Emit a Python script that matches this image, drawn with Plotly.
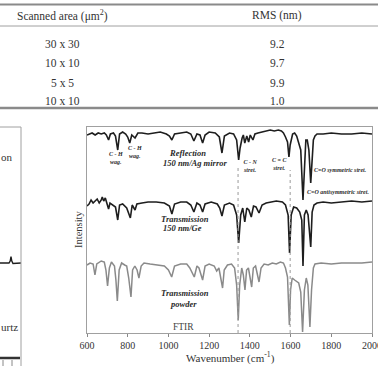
import plotly.graph_objects as go

# ---------------- table data ----------------
table_header = ["Scanned area (\u03bcm<sup>2</sup>)", "RMS (nm)"]
scanned_area = ["30 x 30", "10 x 10", "5 x 5", "10 x 10"]
rms_nm = ["9.2", "9.7", "9.9", "1.0"]

# ---------------- FTIR spectra (wavenumber cm-1, intensity a.u.) ----------------
refl_wn = [600, 610, 625, 640, 655, 670, 685, 695, 706, 715, 730, 740, 751, 760, 775, 790, 800, 810, 820, 836,
           850, 870, 900, 930, 960, 990, 1005, 1017, 1030, 1060, 1090, 1110, 1125, 1140, 1155, 1168, 1180, 1200,
           1230, 1250, 1263, 1275, 1300, 1320, 1335, 1345, 1352, 1362, 1368, 1375, 1385, 1394, 1402, 1415, 1425,
           1440, 1460, 1480, 1500, 1520, 1540, 1555, 1565, 1575, 1585, 1592, 1598, 1610, 1620, 1630, 1640, 1650,
           1661, 1668, 1675, 1682, 1690, 1699, 1706, 1712, 1720, 1730, 1760, 1800, 1850, 1900, 1950, 2000]
refl_int = [198, 199, 200, 198, 200, 199, 200, 198, 193, 199, 200, 197, 183, 199, 201, 199, 196, 190, 198, 195,
            200, 200, 199, 200, 201, 199, 197, 193, 199, 200, 201, 199, 192, 199, 198, 190, 198, 201,
            200, 196, 180, 197, 200, 199, 193, 173, 185, 195, 198, 190, 197, 191, 198, 193, 199,
            200, 201, 202, 203, 202, 203, 202, 200, 196, 191, 176, 188, 199, 200, 197, 191, 183,
            133, 173, 193, 193, 183, 150, 178, 193, 197, 199, 199, 200, 199, 199, 200, 199]

ge_wn = [600, 610, 620, 630, 640, 650, 660, 670, 675, 682, 690, 698, 706, 713, 725, 740, 751, 760, 775, 795,
         813, 822, 836, 845, 870, 900, 940, 980, 1005, 1017, 1030, 1060, 1090, 1110, 1125, 1140, 1155, 1168,
         1180, 1210, 1240, 1252, 1263, 1275, 1300, 1320, 1335, 1345, 1355, 1365, 1375, 1385, 1395, 1407, 1418,
         1430, 1445, 1460, 1480, 1500, 1530, 1560, 1575, 1588, 1595, 1603, 1615, 1630, 1645, 1655, 1661, 1668,
         1677, 1686, 1699, 1706, 1715, 1730, 1760, 1800, 1850, 1900, 1950, 2000]
ge_int = [127, 129, 133, 130, 132, 134, 130, 133, 136, 132, 135, 130, 124, 130, 128, 126, 113, 128, 129, 125,
          115, 128, 123, 129, 130, 131, 131, 130, 127, 119, 129, 131, 131, 128, 121, 130, 128, 121,
          129, 131, 129, 125, 117, 128, 130, 128, 118, 90, 118, 125, 111, 125, 123, 116, 127,
          126, 120, 128, 130, 131, 132, 131, 128, 118, 80, 118, 126, 125, 121, 113, 67, 118,
          123, 118, 86, 121, 128, 130, 131, 130, 131, 132, 131, 132]

powder_wn = [600, 615, 630, 639, 648, 670, 685, 693, 701, 710, 720, 735, 742, 749, 758, 770, 785, 795, 805, 816,
             824, 835, 846, 855, 866, 880, 910, 950, 980, 1000, 1016, 1030, 1060, 1090, 1105, 1127, 1140, 1150,
             1168, 1180, 1200, 1225, 1237, 1248, 1258, 1266, 1274, 1290, 1310, 1325, 1335, 1343, 1350, 1360,
             1368, 1376, 1384, 1393, 1409, 1417, 1428, 1445, 1455, 1470, 1490, 1510, 1530, 1550, 1565, 1575,
             1585, 1594, 1600, 1608, 1620, 1640, 1650, 1659, 1668, 1677, 1685, 1695, 1703, 1712, 1720, 1750,
             1800, 1850, 1900, 1950, 2000]
powder_int = [68, 70, 69, 58, 69, 72, 71, 63, 47, 65, 71, 67, 53, 32, 63, 70, 68, 67, 55, 36,
              63, 67, 63, 55, 67, 70, 69, 68, 67, 63, 56, 67, 69, 69, 65, 56, 67, 65,
              53, 67, 69, 67, 62, 65, 55, 45, 63, 68, 69, 65, 48, 13, 48, 65,
              58, 43, 63, 65, 46, 65, 67, 51, 65, 69, 68, 70, 69, 71, 70, 65,
              56, 8, 43, 55, 53, 50, 41, 1, 43, 55, 48, 6, 43, 65, 69, 70,
              69, 70, 70, 70, 71]

# dotted marker lines (wavenumber, top intensity)
marker_wn = [1342, 1598]
marker_top = [168, 163]

# partial neighbouring panel (left edge)
left_x = [0, 9, 10.2, 11, 11.8, 13, 21]
left_y = [97, 97, 99, 103.5, 99, 96.5, 97]
left_labels = ["on", "urtz"]

SERIF = "Liberation Serif"
W, H = 378, 370


def px(x):
    return x / W


def py(y):
    return (H - y) / H


fig = go.Figure()

fig.add_trace(go.Scatter(x=refl_wn, y=refl_int, mode="lines",
                         line=dict(color="#1e1e1e", width=1.6), hoverinfo="skip"))
fig.add_trace(go.Scatter(x=ge_wn, y=ge_int, mode="lines",
                         line=dict(color="#1e1e1e", width=1.6), hoverinfo="skip"))
fig.add_trace(go.Scatter(x=powder_wn, y=powder_int, mode="lines",
                         line=dict(color="#8a8a8a", width=1.5), hoverinfo="skip"))
fig.add_trace(go.Scatter(x=left_x, y=left_y, mode="lines", xaxis="x2", yaxis="y2",
                         line=dict(color="#1e1e1e", width=1.4), hoverinfo="skip"))

shapes = []
for wn, top in zip(marker_wn, marker_top):
    shapes.append(dict(type="line", xref="x", yref="y", x0=wn, x1=wn, y0=0, y1=top,
                       line=dict(color="#9a9a9a", width=1, dash="dot")))


def pline(x0, y0, x1, y1, color, width):
    shapes.append(dict(type="line", xref="paper", yref="paper", x0=px(x0), x1=px(x1),
                       y0=py(y0), y1=py(y1), line=dict(color=color, width=width)))


# table rules
pline(0, 4.5, W, 4.5, "#8a8a8a", 2)
pline(0, 26, W, 26, "#a0a0a0", 1)
pline(0, 108, W, 108, "#8a8a8a", 2.5)
# left panel frame (only its right and top edges are in view)
pline(0, 127, 21, 127, "#a0a0a0", 1)
pline(21, 127, 21, 366, "#a0a0a0", 1)
pline(0, 358, 20, 358, "#333333", 2.5)
pline(3, 360, 3, 366, "#888888", 1)
pline(12, 360, 12, 366, "#888888", 1)

annotations = []


def ptext(text, x, y, size=11.5, color="#333", xanchor="center", angle=0):
    annotations.append(dict(text=text, x=px(x), y=py(y), xref="paper", yref="paper",
                            showarrow=False, xanchor=xanchor, yanchor="middle", textangle=angle,
                            font=dict(family=SERIF, size=size, color=color)))


# table text
col_x = [62, 277]
ptext(table_header[0], col_x[0], 15)
ptext(table_header[1], col_x[1], 15)
row_y = [43.5, 63, 82.5, 101.5]
for a, r, yy in zip(scanned_area, rms_nm, row_y):
    ptext(a, col_x[0], yy)
    ptext(r, col_x[1], yy)


def lab(text, x, y, size=8.5):
    annotations.append(dict(text="<b><i>" + text + "</i></b>", x=x, y=y, xref="x", yref="y",
                            showarrow=False, xanchor="center", yanchor="middle",
                            font=dict(family=SERIF, size=size, color="#2a2a2a")))


lab("C - H<br>wag.", 742, 175, size=6)
lab("C - H<br>wag.", 838, 181.5, size=6)
lab("Reflection", 1096, 180)
lab("150 nm/Ag mirror", 1130, 170)
lab("C - N<br>stret.", 1400, 167, size=6)
lab("C = C<br>stret.", 1545, 169.5, size=6)
lab("C=O symmetric stret.", 1845, 163, size=6)
lab("C=O antisymmetric stret.", 1835, 141.5, size=6)
lab("Transmission", 1081, 114)
lab("150 nm/Ge", 1071, 105)
lab("Transmission", 1081, 40)
lab("powder", 1076, 29)
annotations.append(dict(text="FTIR", x=1076, y=6, xref="x", yref="y", showarrow=False,
                        xanchor="center", yanchor="middle",
                        font=dict(family=SERIF, size=9.5, color="#444")))

# axis titles
ptext("Intensity", 78, 230, size=10.5, angle=-90)
ptext("Wavenumber (cm<sup>-1</sup>)", 230, 357, size=11)

# partial labels of neighbouring panel
ptext(left_labels[0], -1, 157, size=11, xanchor="left")
ptext(left_labels[1], -1, 327, size=11, xanchor="left")

fig.update_layout(
    width=W, height=H, autosize=False,
    margin=dict(l=0, r=0, t=0, b=0, autoexpand=False),
    paper_bgcolor="white", plot_bgcolor="white",
    showlegend=False,
    shapes=shapes, annotations=annotations,
    xaxis=dict(domain=[px(87), px(372)], range=[600, 2000], tickvals=list(range(600, 2001, 200)),
               ticks="outside", ticklen=3, tickcolor="#888", showline=True, mirror=True,
               linecolor="#a0a0a0", linewidth=1, showgrid=False, zeroline=False,
               ticklabeloverflow="allow", automargin=False,
               tickfont=dict(family=SERIF, size=10, color="#333")),
    yaxis=dict(domain=[py(333), py(127)], range=[0, 206], showticklabels=False, ticks="",
               showline=True, mirror=True, linecolor="#a0a0a0", linewidth=1,
               showgrid=False, zeroline=False, automargin=False),
    xaxis2=dict(domain=[0, px(21)], range=[0, 21], anchor="y2", visible=False, automargin=False),
    yaxis2=dict(domain=[py(360), py(127)], range=[0, 233], anchor="x2", visible=False, automargin=False),
)

fig.write_html("out.html")
